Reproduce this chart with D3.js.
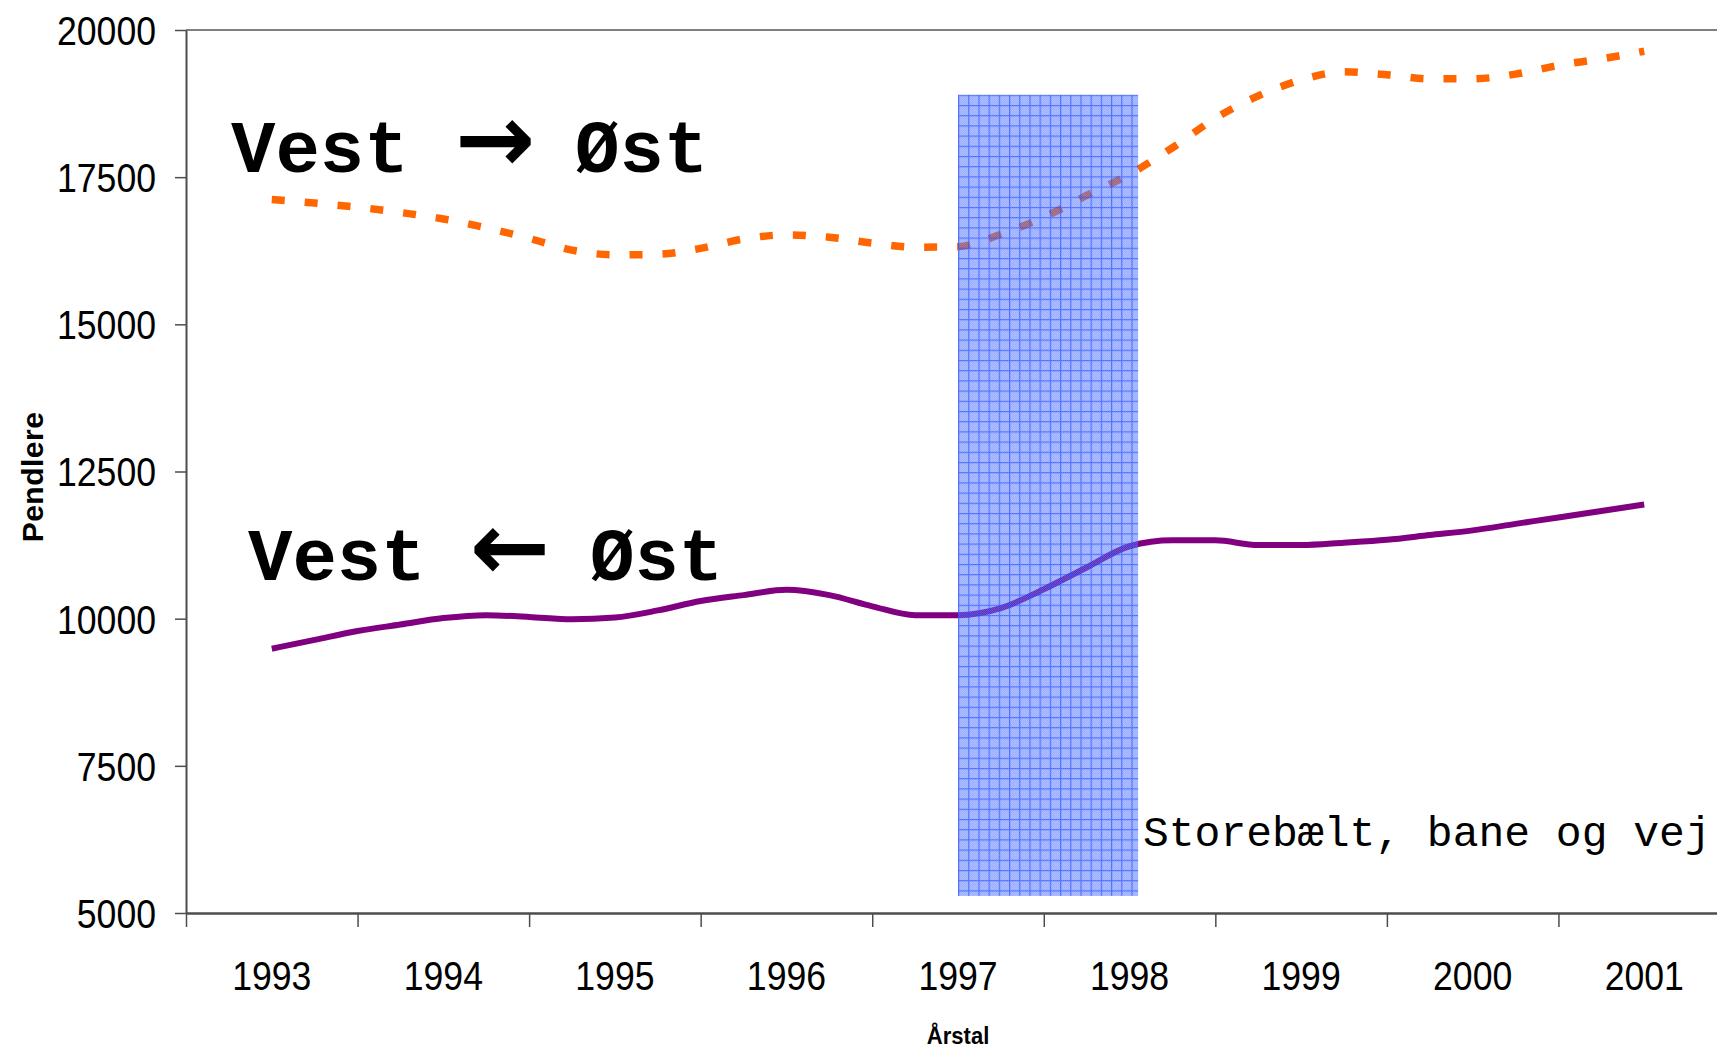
<!DOCTYPE html>
<html>
<head>
<meta charset="utf-8">
<script src="https://cdn.jsdelivr.net/npm/d3@7"></script>
<style>
  html, body { margin: 0; padding: 0; background: #ffffff; }
  svg { display: block; }
</style>
</head>
<body>
<svg id="chart" width="1717" height="1049"></svg>
<script>
// Årstal på kategoriaksen
const years = [1993, 1994, 1995, 1996, 1997, 1998, 1999, 2000, 2001];
// Værdier på y-aksen
const yTicks = [5000, 7500, 10000, 12500, 15000, 17500, 20000];

// Pendlere pr. kvartal, 1993 K1 - 2001 K1
const vestTilOst = [
  17120, 17060, 16990, 16900, 16790, 16640, 16460, 16260,
  16180, 16190, 16290, 16450, 16520, 16480, 16380, 16310,
  16320, 16530, 16820, 17190, 17550, 18000, 18500, 18880,
  19150, 19290, 19240, 19170, 19170, 19250, 19400, 19510,
  19640
];
const ostTilVest = [
  9490, 9640, 9790, 9900, 10010, 10060, 10030, 9990,
  10020, 10140, 10300, 10400, 10490, 10400, 10210, 10060,
  10060, 10180, 10500, 10870, 11230, 11330, 11330, 11250,
  11250, 11290, 11340, 11420, 11500, 11610, 11720, 11830,
  11940
];

// Storebæltsforbindelsen: periode og højde på markeringen
const broPeriode = [1997, 1998.05];
const broNiveau = [5290, 18900];

const W = 1717, H = 1049;
const svg = d3.select("#chart");

// Kvartalernes placering på tidsaksen
const periods = vestTilOst.map((_, i) => years[0] + i / 4);

const x = d3.scaleLinear().domain([years[0] - 0.5, years[years.length - 1] + 0.5]).range([186, 1730]);
const y = d3.scaleLinear().domain([5000, 20000]).range([913, 30]);

const axisColor = "#4d4d4d";
const numFont = "'Liberation Sans', Arial, sans-serif";
const monoFont = "'Liberation Mono', 'Courier New', monospace";

// Øverste ramme
svg.append("line")
  .attr("x1", x.range()[0]).attr("x2", W)
  .attr("y1", y(20000)).attr("y2", y(20000))
  .attr("stroke", "#808080").attr("stroke-width", 2);

// Serier
const line = d3.line()
  .x((d, i) => x(periods[i]))
  .y(d => y(d))
  .curve(d3.curveMonotoneX);

svg.append("path")
  .datum(vestTilOst)
  .attr("d", line)
  .attr("fill", "none")
  .attr("stroke", "#ff6600")
  .attr("stroke-width", 7.5)
  .attr("stroke-dasharray", "13 20");

svg.append("path")
  .datum(ostTilVest)
  .attr("d", line)
  .attr("fill", "none")
  .attr("stroke", "#800080")
  .attr("stroke-width", 6)
  .attr("stroke-linejoin", "round");

// Markering af broåbningen: halvgennemsigtigt rutenet
const bx0 = x(broPeriode[0]), bx1 = x(broPeriode[1]);
const by0 = y(broNiveau[1]), by1 = y(broNiveau[0]);
const cell = 10.2;
const defs = svg.append("defs");
const grid = defs.append("pattern")
  .attr("id", "rutenet")
  .attr("patternUnits", "userSpaceOnUse")
  .attr("x", bx0).attr("y", by0)
  .attr("width", cell).attr("height", cell);
grid.append("rect")
  .attr("width", cell).attr("height", cell)
  .attr("fill", "rgba(60,100,255,0.5)");
grid.append("path")
  .attr("d", `M0,0.6H${cell}M0.6,0V${cell}`)
  .attr("stroke", "rgba(25,65,255,0.65)")
  .attr("stroke-width", 1.2)
  .attr("fill", "none");
const dots = defs.append("pattern")
  .attr("id", "prikker")
  .attr("patternUnits", "userSpaceOnUse")
  .attr("width", 2).attr("height", 2);
dots.append("rect").attr("width", 1).attr("height", 1).attr("fill", "rgba(255,255,255,0.14)");
dots.append("rect").attr("x", 1).attr("y", 1).attr("width", 1).attr("height", 1).attr("fill", "rgba(255,255,255,0.14)");

svg.append("rect")
  .attr("x", bx0).attr("y", by0)
  .attr("width", bx1 - bx0).attr("height", by1 - by0)
  .attr("fill", "url(#rutenet)");
svg.append("rect")
  .attr("x", bx0).attr("y", by0)
  .attr("width", bx1 - bx0).attr("height", by1 - by0)
  .attr("fill", "url(#prikker)");

// Y-akse
const yAxis = d3.axisLeft(y)
  .tickValues(yTicks)
  .tickSize(11)
  .tickSizeOuter(0)
  .tickPadding(19)
  .tickFormat(d3.format("d"));
const gy = svg.append("g")
  .attr("transform", `translate(${x.range()[0]},0)`)
  .call(yAxis);
gy.select(".domain").attr("stroke", axisColor).attr("stroke-width", 2);
gy.selectAll(".tick line").attr("stroke", axisColor).attr("stroke-width", 1.5);
gy.selectAll(".tick text")
  .attr("x", 0)
  .attr("dy", "0.36em")
  .attr("transform", "translate(-30,0) scale(0.89,1)")
  .attr("fill", "#000")
  .style("font-family", numFont)
  .style("font-size", "40px");

// X-akse: streger mellem årene, årstal midt i hvert år
const boundaries = years.map(v => v - 0.5).concat([years[years.length - 1] + 0.5]);
const xAxis = d3.axisBottom(x)
  .tickValues(boundaries)
  .tickSize(14)
  .tickSizeOuter(0)
  .tickFormat("");
const gx = svg.append("g")
  .attr("transform", `translate(0,${y(5000)})`)
  .call(xAxis);
gx.select(".domain").attr("stroke", axisColor).attr("stroke-width", 2.5);
gx.selectAll(".tick line").attr("stroke", axisColor).attr("stroke-width", 1.5);

svg.append("g")
  .selectAll("text")
  .data(years)
  .join("text")
  .attr("transform", d => `translate(${x(d)},990) scale(0.89,1)`)
  .attr("text-anchor", "middle")
  .style("font-family", numFont)
  .style("font-size", "40px")
  .attr("fill", "#000")
  .text(d => d);

// Aksetitler
svg.append("text")
  .attr("transform", `translate(${x(1997)},1044) scale(0.92,1)`)
  .attr("text-anchor", "middle")
  .style("font-family", numFont)
  .style("font-weight", "bold")
  .style("font-size", "24px")
  .text("Årstal");

svg.append("text")
  .attr("transform", "translate(43,477) rotate(-90)")
  .attr("text-anchor", "middle")
  .style("font-family", numFont)
  .style("font-weight", "bold")
  .style("font-size", "30px")
  .style("letter-spacing", "0.5px")
  .text("Pendlere");

// Serieetiketter
function retning(ypos, xVest, pil, xPil, xOst) {
  const t = svg.append("text")
    .attr("y", ypos)
    .style("font-family", monoFont)
    .style("font-weight", "bold")
    .style("font-size", "74px")
    .attr("fill", "#000");
  t.append("tspan").attr("x", xVest).text("Vest");
  t.append("tspan").attr("x", xPil).attr("text-anchor", "middle")
    .style("font-family", "'DejaVu Sans', sans-serif")
    .style("font-size", "96px")
    .text(" " + pil + " ");
  t.append("tspan").attr("x", xOst).text("Øst");
}
retning(172, 231, "→", 495, 575);
retning(580, 248, "←", 510, 590);

// Note om broen
svg.append("text")
  .attr("x", 1143)
  .attr("y", 846)
  .style("font-family", monoFont)
  .style("font-size", "43px")
  .attr("fill", "#000")
  .text("Storebælt, bane og vej");
</script>
</body>
</html>
